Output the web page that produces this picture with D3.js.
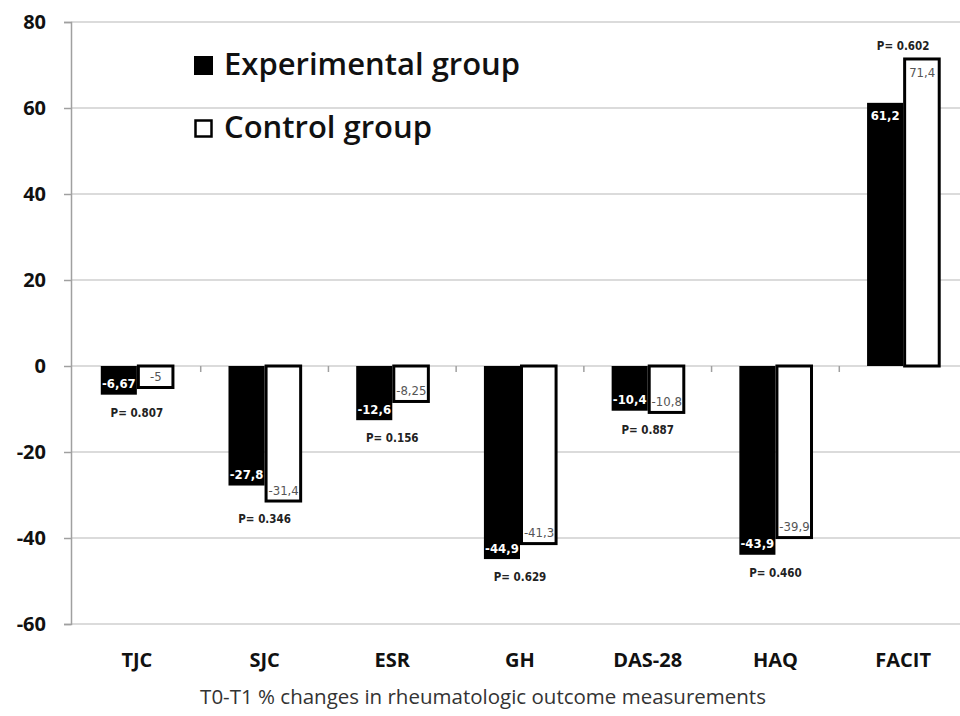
<!DOCTYPE html>
<html>
<head>
<meta charset="utf-8">
<script src="https://cdn.jsdelivr.net/npm/d3@7"></script>
<style>
  html, body { margin: 0; padding: 0; background: #fff; }
  svg { display: block; }
</style>
</head>
<body>
<svg id="chart" width="960" height="716"></svg>
<script>
const categories = ["TJC", "SJC", "ESR", "GH", "DAS-28", "HAQ", "FACIT"];
const experimental = [-6.67, -27.8, -12.6, -44.9, -10.4, -43.9, 61.2];
const control = [-5, -31.4, -8.25, -41.3, -10.8, -39.9, 71.4];
const experimentalLabels = ["-6,67", "-27,8", "-12,6", "-44,9", "-10,4", "-43,9", "61,2"];
const controlLabels = ["-5", "-31,4", "-8,25", "-41,3", "-10,8", "-39,9", "71,4"];
const pValues = ["P= 0.807", "P= 0.346", "P= 0.156", "P= 0.629", "P= 0.887", "P= 0.460", "P= 0.602"];
const yTicks = [-60, -40, -20, 0, 20, 40, 60, 80];
const seriesNames = ["Experimental group", "Control group"];
const xTitle = "T0-T1 % changes in rheumatologic outcome measurements";

const font = "'Open Sans', sans-serif";
const narrow = "'Liberation Sans Narrow', 'DejaVu Sans Condensed', 'Open Sans', sans-serif";
const svg = d3.select("#chart");

const axisX = 71;
const x0 = d3.scaleBand().domain(categories).range([73, 967]).padding(0);
const x1 = d3.scaleBand().domain(["exp", "ctl"]).range([0, x0.bandwidth()]).paddingInner(0).paddingOuter(0.77);
const y = d3.scaleLinear().domain([-60, 80]).range([624, 22]);

// gridlines
svg.append("g").selectAll("line").data(yTicks).join("line")
  .attr("x1", axisX).attr("x2", 967)
  .attr("y1", d => y(d)).attr("y2", d => y(d))
  .attr("stroke", "#cfcfcf").attr("stroke-width", 1.5);

// y axis
const yAxis = d3.axisLeft(y).tickValues(yTicks).tickSize(7).tickPadding(18).tickFormat(d => String(d));
const gy = svg.append("g").attr("transform", `translate(${axisX},0)`).call(yAxis);
gy.select(".domain").attr("stroke", "#a0a0a0").attr("stroke-width", 1.5);
gy.selectAll(".tick line").attr("stroke", "#a0a0a0").attr("stroke-width", 1.5);
gy.selectAll(".tick text").attr("font-family", font).attr("font-weight", 700)
  .attr("font-size", 20).attr("fill", "#111");

// category ticks on zero line
const bounds = categories.map(c => x0(c)).concat([x0.range()[1]]);
svg.append("g").selectAll("line").data(bounds.slice(1)).join("line")
  .attr("x1", d => d).attr("x2", d => d)
  .attr("y1", y(0)).attr("y2", y(0) + 6)
  .attr("stroke", "#a0a0a0").attr("stroke-width", 1.5);

const rows = categories.map((c, i) => ({ c, i, e: experimental[i], k: control[i] }));

// experimental bars
svg.append("g").selectAll("rect").data(rows).join("rect")
  .attr("x", d => x0(d.c) + x1("exp"))
  .attr("width", x1.bandwidth())
  .attr("y", d => y(Math.max(0, d.e)))
  .attr("height", d => Math.abs(y(d.e) - y(0)))
  .attr("fill", "#000");

// control bars
svg.append("g").selectAll("rect").data(rows).join("rect")
  .attr("x", d => x0(d.c) + x1("ctl") + 1.5)
  .attr("width", x1.bandwidth() - 1.5)
  .attr("y", d => y(Math.max(0, d.k)))
  .attr("height", d => Math.abs(y(d.k) - y(0)))
  .attr("fill", "#fff").attr("stroke", "#000").attr("stroke-width", 3);

// value labels
function endY(v) { return v < 0 ? y(v) - 11 : y(v) + 13; }
svg.append("g").selectAll("text").data(rows).join("text")
  .attr("x", d => x0(d.c) + x1("exp") + x1.bandwidth() / 2)
  .attr("y", d => endY(d.e)).attr("dy", "0.35em")
  .attr("text-anchor", "middle")
  .attr("font-family", narrow).attr("font-size", 13).attr("font-weight", 700)
  .attr("fill", "#fff")
  .text(d => experimentalLabels[d.i]);
svg.append("g").selectAll("text").data(rows).join("text")
  .attr("x", d => x0(d.c) + x1("ctl") + x1.bandwidth() / 2 + 1)
  .attr("y", d => endY(d.k)).attr("dy", "0.35em")
  .attr("text-anchor", "middle")
  .attr("font-family", narrow).attr("font-size", 13)
  .attr("fill", "#555")
  .text(d => controlLabels[d.i]);

// p-values
svg.append("g").selectAll("text").data(rows).join("text")
  .attr("x", d => x0(d.c) + x0.bandwidth() / 2)
  .attr("y", d => {
    const lo = Math.min(d.e, d.k), hi = Math.max(d.e, d.k);
    return hi > 0 ? y(hi) - 13 : y(lo) + 18;
  })
  .attr("dy", "0.35em")
  .attr("text-anchor", "middle")
  .attr("font-family", narrow).attr("font-size", 11.5).attr("font-weight", 700)
  .attr("fill", "#222")
  .text(d => pValues[d.i]);

// x category labels
svg.append("g").selectAll("text").data(categories).join("text")
  .attr("x", d => x0(d) + x0.bandwidth() / 2)
  .attr("y", 660).attr("dy", "0.35em")
  .attr("text-anchor", "middle")
  .attr("font-family", font).attr("font-size", 20).attr("font-weight", 700)
  .attr("fill", "#111")
  .text(d => d);

// x title
svg.append("text")
  .attr("x", 483).attr("y", 697).attr("dy", "0.35em")
  .attr("text-anchor", "middle")
  .attr("font-family", font).attr("font-size", 20.5)
  .attr("fill", "#333")
  .text(xTitle);

// legend
const leg = svg.append("g");
const legBase = [75, 138];
leg.selectAll("rect").data(seriesNames).join("rect")
  .attr("x", (d, i) => i === 0 ? 194 : 195.5)
  .attr("y", (d, i) => legBase[i] - (i === 0 ? 19 : 17.5))
  .attr("width", (d, i) => i === 0 ? 19 : 16)
  .attr("height", (d, i) => i === 0 ? 19 : 16)
  .attr("fill", (d, i) => i === 0 ? "#000" : "#fff")
  .attr("stroke", "#000").attr("stroke-width", (d, i) => i === 0 ? 0 : 2.5);
leg.selectAll("text").data(seriesNames).join("text")
  .attr("x", 224).attr("y", (d, i) => legBase[i])
  .attr("font-family", font).attr("font-weight", 600).attr("font-size", 31)
  .attr("fill", "#111")
  .text(d => d);
</script>
</body>
</html>
